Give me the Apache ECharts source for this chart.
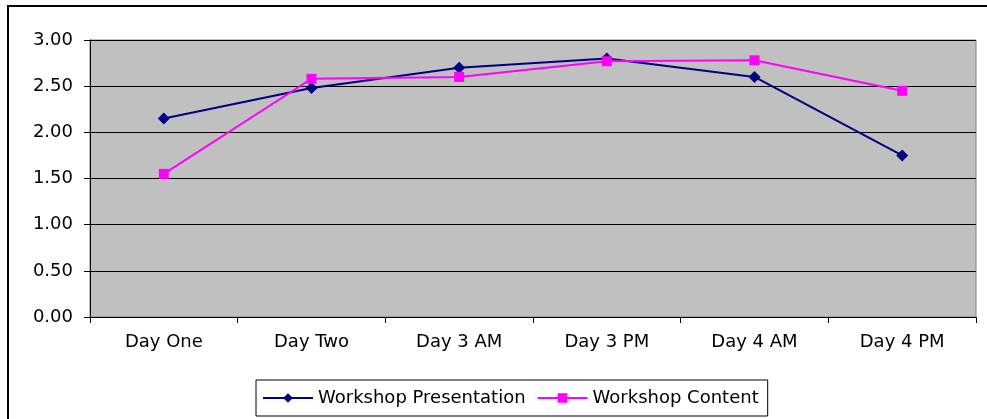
<!DOCTYPE html>
<html>
<head>
<meta charset="utf-8">
<script src="https://cdn.jsdelivr.net/npm/echarts@6/dist/echarts.min.js"></script>
<style>
  html, body { margin: 0; padding: 0; background: #fff; }
  #chart { width: 987px; height: 419px; }
</style>
</head>
<body>
<div id="chart"></div>
<script>
// Workshop evaluation averages per session
var categories = ['Day One', 'Day Two', 'Day 3 AM', 'Day 3 PM', 'Day 4 AM', 'Day 4 PM'];
var presentation = [2.15, 2.48, 2.70, 2.80, 2.60, 1.75];
var content = [1.55, 2.58, 2.60, 2.77, 2.78, 2.45];
var yTicks = { min: 0, max: 3, interval: 0.5 };

var chart = echarts.init(document.getElementById('chart'));
var font = 'DejaVu Sans, Verdana, sans-serif';

chart.setOption({
  animation: false,
  backgroundColor: '#fff',
  graphic: [{
    type: 'rect',
    shape: { x: 8, y: 6, width: 1100, height: 500 },
    style: { fill: 'none', stroke: '#000', lineWidth: 2 },
    silent: true,
    z: 100
  }],
  grid: {
    left: 90, right: 11, top: 40, bottom: 102,
    show: true,
    backgroundColor: '#c0c0c0',
    borderColor: '#808080',
    borderWidth: 1
  },
  legend: {
    bottom: 3,
    left: 256,
    padding: [9, 9, 9, 6],
    borderColor: '#000',
    borderWidth: 1,
    itemWidth: 50,
    itemHeight: 12,
    itemGap: 11,
    textStyle: { fontFamily: font, fontSize: 18, color: '#000' },
    data: ['Workshop Presentation', 'Workshop Content']
  },
  xAxis: {
    type: 'category',
    data: categories,
    boundaryGap: true,
    axisLine: { lineStyle: { color: '#000', width: 1 } },
    axisTick: { show: true, length: 6, lineStyle: { color: '#000' } },
    axisLabel: { fontFamily: font, fontSize: 18, color: '#000', margin: 16 }
  },
  yAxis: {
    type: 'value',
    min: yTicks.min, max: yTicks.max, interval: yTicks.interval,
    axisLine: { show: true, lineStyle: { color: '#000', width: 1 } },
    axisTick: { show: true, length: 6, lineStyle: { color: '#000' } },
    axisLabel: {
      fontFamily: font, fontSize: 18, color: '#000', margin: 17,
      formatter: function (v) { return v.toFixed(2); }
    },
    splitLine: { show: true, lineStyle: { color: '#000', width: 1 } }
  },
  series: [{
    name: 'Workshop Presentation',
    type: 'line',
    data: presentation,
    symbol: 'diamond',
    symbolSize: 12,
    lineStyle: { color: '#000080', width: 2 },
    itemStyle: { color: '#000080' }
  }, {
    name: 'Workshop Content',
    type: 'line',
    data: content,
    symbol: 'rect',
    symbolSize: 10,
    lineStyle: { color: '#ff00ff', width: 2 },
    itemStyle: { color: '#ff00ff' }
  }]
});
</script>
</body>
</html>
